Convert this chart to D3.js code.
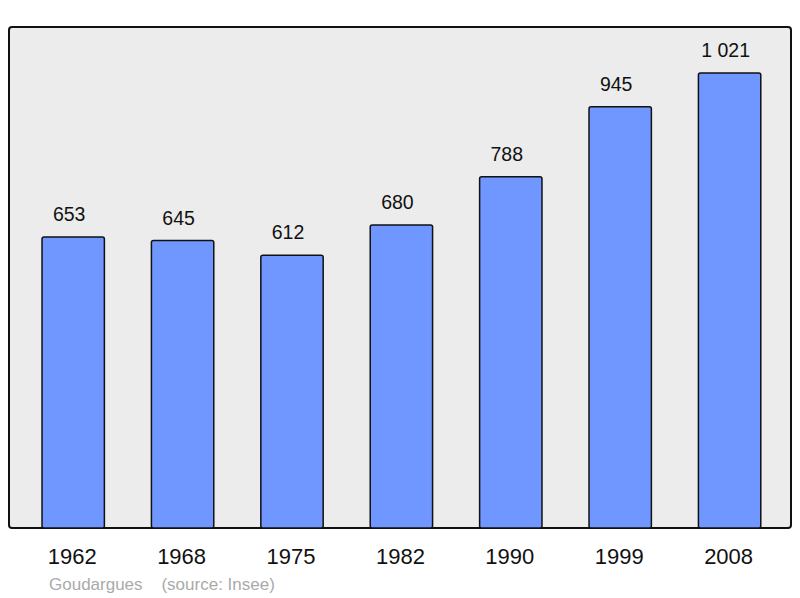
<!DOCTYPE html>
<html><head><meta charset="utf-8">
<script src="https://cdn.jsdelivr.net/npm/d3@7"></script>
<style>body{margin:0;background:#fff}svg{display:block}</style>
</head><body>
<script>
const years = ["1962","1968","1975","1982","1990","1999","2008"];
const population = [653,645,612,680,788,945,1021];
const valueLabels = ["653","645","612","680","788","945","1 021"];
const footer = "Goudargues    (source: Insee)";

const W=800,H=598;
const svg=d3.select("body").append("svg").attr("width",W).attr("height",H);
svg.append("rect").attr("x",9).attr("y",27).attr("width",782).attr("height",501)
  .attr("rx",3).attr("fill","#ececec").attr("stroke","#111").attr("stroke-width",2);

const x=d3.scaleBand().domain(years).range([18.5,784.3]).paddingInner(0.43).paddingOuter(0.215);
const y=d3.scaleLinear().domain([0,1124]).range([528,27]);

svg.selectAll("rect.bar").data(years).enter().append("rect").attr("class","bar")
  .attr("x",d=>x(d)).attr("width",x.bandwidth())
  .attr("y",(d,i)=>y(population[i])).attr("height",(d,i)=>528-y(population[i]))
  .attr("rx",2).attr("fill","#7096ff").attr("stroke","#111").attr("stroke-width",1.5);

svg.selectAll("text.val").data(years).enter().append("text").attr("class","val")
  .attr("x",d=>x(d)+x.bandwidth()/2-4).attr("y",(d,i)=>y(population[i])-16)
  .attr("text-anchor","middle").attr("font-family","Liberation Sans, Arial, sans-serif")
  .attr("font-size",19.5).attr("fill","#111").text((d,i)=>valueLabels[i]);

const xa=svg.append("g").attr("transform","translate(0,528)")
  .call(d3.axisBottom(x).tickSize(0).tickPadding(0));
xa.select(".domain").remove();
xa.selectAll("text").attr("x",-1).attr("y",35.5).attr("dy",0).attr("font-family","Liberation Sans, Arial, sans-serif")
  .attr("font-size",22).attr("fill","#111");

svg.append("text").attr("x",49).attr("y",590).attr("font-family","Liberation Sans, Arial, sans-serif")
  .attr("font-size",17).attr("fill","#aaa").attr("xml:space","preserve").style("white-space","pre").text(footer);
</script>
</body></html>
